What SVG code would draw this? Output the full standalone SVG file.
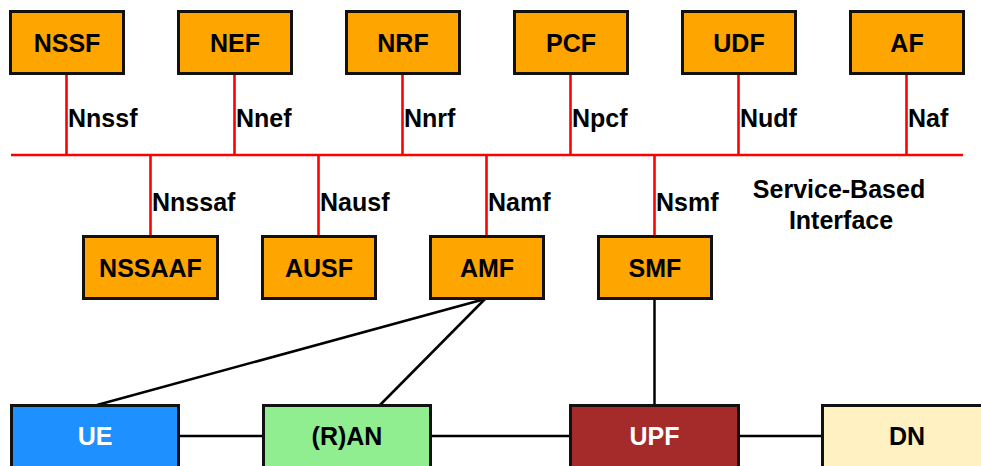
<svg xmlns="http://www.w3.org/2000/svg" width="981" height="466" viewBox="0 0 981 466">
  <style>
    .box { stroke: #111; stroke-width: 3; }
    .nf { fill: #FFA500; }
    .lbl { font-family: "Liberation Sans", Arial, sans-serif; font-weight: bold; font-size: 25px; fill: #000; }
    .mid { text-anchor: middle; }
    .white { fill: #fff; }
    .sbi { stroke: #FF0000; stroke-width: 2.6; fill: none; }
    .link { stroke: #000; stroke-width: 2.5; fill: none; }
  </style>
  <rect width="981" height="466" fill="#fff"/>

  <!-- connectors -->
  <g id="connectors">
    <!-- service-based bus -->
    <line class="sbi" x1="11" y1="155" x2="963" y2="155"/>
    <line class="sbi" x1="66.5" y1="74" x2="66.5" y2="155"/>
    <line class="sbi" x1="234.5" y1="74" x2="234.5" y2="155"/>
    <line class="sbi" x1="402.5" y1="74" x2="402.5" y2="155"/>
    <line class="sbi" x1="570.5" y1="74" x2="570.5" y2="155"/>
    <line class="sbi" x1="738.5" y1="74" x2="738.5" y2="155"/>
    <line class="sbi" x1="906.5" y1="74" x2="906.5" y2="155"/>
    <line class="sbi" x1="150.5" y1="155" x2="150.5" y2="236"/>
    <line class="sbi" x1="318.5" y1="155" x2="318.5" y2="236"/>
    <line class="sbi" x1="486.5" y1="155" x2="486.5" y2="236"/>
    <line class="sbi" x1="654.5" y1="155" x2="654.5" y2="236"/>
    <!-- interface labels -->
    <text class="lbl" x="68" y="127">Nnssf</text>
    <text class="lbl" x="236" y="127">Nnef</text>
    <text class="lbl" x="404" y="127">Nnrf</text>
    <text class="lbl" x="572" y="127">Npcf</text>
    <text class="lbl" x="740" y="127">Nudf</text>
    <text class="lbl" x="908" y="127">Naf</text>
    <text class="lbl" x="152" y="211">Nnssaf</text>
    <text class="lbl" x="320" y="211">Nausf</text>
    <text class="lbl" x="488" y="211">Namf</text>
    <text class="lbl" x="656" y="211">Nsmf</text>
    <text class="lbl mid" x="839" y="198">Service-Based</text>
    <text class="lbl mid" x="841" y="229">Interface</text>
    <!-- reference point links -->
    <line class="link" x1="485" y1="299" x2="97" y2="405"/>
    <line class="link" x1="485" y1="299" x2="380" y2="405"/>
    <line class="link" x1="654.5" y1="299" x2="654.5" y2="405"/>
    <line class="link" x1="179" y1="436" x2="263" y2="436"/>
    <line class="link" x1="431" y1="436" x2="570" y2="436"/>
    <line class="link" x1="739" y1="436" x2="822" y2="436"/>
  </g>

  <!-- network functions, top row -->
  <g id="nssf"><rect class="box nf" x="10.5" y="11.5" width="113" height="62"/><text class="lbl mid" x="67" y="51.5">NSSF</text></g>
  <g id="nef"><rect class="box nf" x="178.5" y="11.5" width="113" height="62"/><text class="lbl mid" x="235" y="51.5">NEF</text></g>
  <g id="nrf"><rect class="box nf" x="346.5" y="11.5" width="113" height="62"/><text class="lbl mid" x="403" y="51.5">NRF</text></g>
  <g id="pcf"><rect class="box nf" x="514.5" y="11.5" width="113" height="62"/><text class="lbl mid" x="571" y="51.5">PCF</text></g>
  <g id="udf"><rect class="box nf" x="682.5" y="11.5" width="113" height="62"/><text class="lbl mid" x="739" y="51.5">UDF</text></g>
  <g id="af"><rect class="box nf" x="850.5" y="11.5" width="113" height="62"/><text class="lbl mid" x="907" y="51.5">AF</text></g>

  <!-- network functions, middle row -->
  <g id="nssaaf"><rect class="box nf" x="83.5" y="236.5" width="134" height="62"/><text class="lbl mid" x="150.5" y="276.5">NSSAAF</text></g>
  <g id="ausf"><rect class="box nf" x="262.5" y="236.5" width="113" height="62"/><text class="lbl mid" x="319" y="276.5">AUSF</text></g>
  <g id="amf"><rect class="box nf" x="430.5" y="236.5" width="113" height="62"/><text class="lbl mid" x="487" y="276.5">AMF</text></g>
  <g id="smf"><rect class="box nf" x="598.5" y="236.5" width="113" height="62"/><text class="lbl mid" x="655" y="276.5">SMF</text></g>

  <!-- user plane, bottom row -->
  <g id="ue"><rect class="box" x="11.5" y="405.5" width="167" height="64" fill="#1E90FF"/><text class="lbl mid white" x="95" y="444.5">UE</text></g>
  <g id="ran"><rect class="box" x="263.5" y="405.5" width="167" height="64" fill="#90EE90"/><text class="lbl mid" x="347" y="444.5">(R)AN</text></g>
  <g id="upf"><rect class="box" x="570.5" y="405.5" width="168" height="64" fill="#A52A2A"/><text class="lbl mid white" x="654.5" y="444.5">UPF</text></g>
  <g id="dn"><rect class="box" x="822.5" y="405.5" width="168" height="64" fill="#FFF1C2"/><text class="lbl mid" x="907" y="444.5">DN</text></g>
</svg>
